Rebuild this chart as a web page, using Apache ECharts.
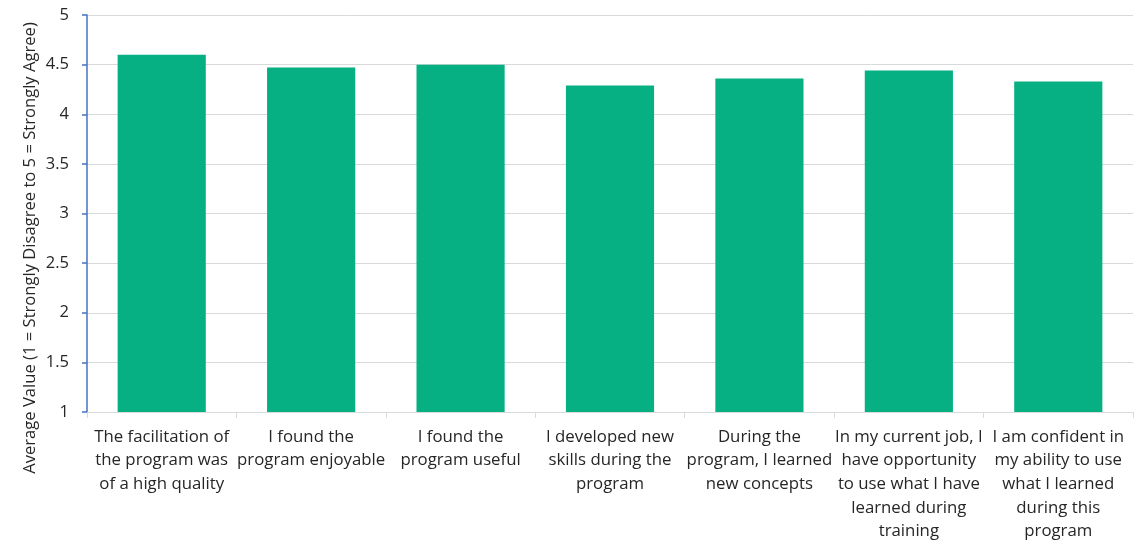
<!DOCTYPE html>
<html>
<head>
<meta charset="utf-8">
<script src="https://cdn.jsdelivr.net/npm/echarts@6/dist/echarts.min.js"></script>
<style>
html,body{margin:0;padding:0;background:#fff;}
#chart{width:1144px;height:542px;}
</style>
</head>
<body>
<div id="chart"></div>
<script>
const categories = [
  "The facilitation of\nthe program was\nof a high quality",
  "I found the\nprogram enjoyable",
  "I found the\nprogram useful",
  "I developed new\nskills during the\nprogram",
  "During the\nprogram, I learned\nnew concepts",
  "In my current job, I\nhave opportunity\nto use what I have\nlearned during\ntraining",
  "I am confident in\nmy ability to use\nwhat I learned\nduring this\nprogram"
];
const values = [4.60, 4.47, 4.50, 4.29, 4.36, 4.44, 4.33];
const yAxisTitle = "Average Value (1 = Strongly Disagree to 5 = Strongly Agree)";

const chart = echarts.init(document.getElementById('chart'));
const font = '"Open Sans", Lato, sans-serif';
chart.setOption({
  animation: false,
  grid: {left: 87, right: 11, top: 15, bottom: 130, outerBoundsMode: 'none', containLabel: false},
  graphic: [{
    type: 'text',
    x: 30, y: 248,
    rotation: Math.PI / 2,
    style: {
      text: yAxisTitle,
      fill: '#262626',
      font: '16.6px "Open Sans", Lato, sans-serif',
      align: 'center',
      verticalAlign: 'middle'
    }
  }],
  xAxis: {
    type: 'category',
    data: categories,
    boundaryGap: true,
    axisLine: {show: true, lineStyle: {color: '#d9d9d9', width: 1}},
    axisTick: {show: true, alignWithLabel: false, length: 6, lineStyle: {color: '#d9d9d9'}},
    axisLabel: {
      interval: 0, color: '#262626', fontSize: 16.8, fontFamily: font,
      lineHeight: 23.7, margin: 13, align: 'center'
    }
  },
  yAxis: {
    type: 'value',
    min: 1, max: 5, interval: 0.5,
    axisLine: {show: true, lineStyle: {color: '#4472c4', width: 1.5}},
    axisTick: {show: true, inside: false, length: 5, lineStyle: {color: '#4472c4', width: 1.5}},
    axisLabel: {color: '#262626', fontSize: 16.5, fontFamily: font, margin: 18},
    splitLine: {show: true, lineStyle: {color: '#d9d9d9', width: 1}}
  },
  series: [{
    type: 'bar',
    data: values,
    barWidth: '59%',
    itemStyle: {color: '#06b083'}
  }]
});
</script>
</body>
</html>
